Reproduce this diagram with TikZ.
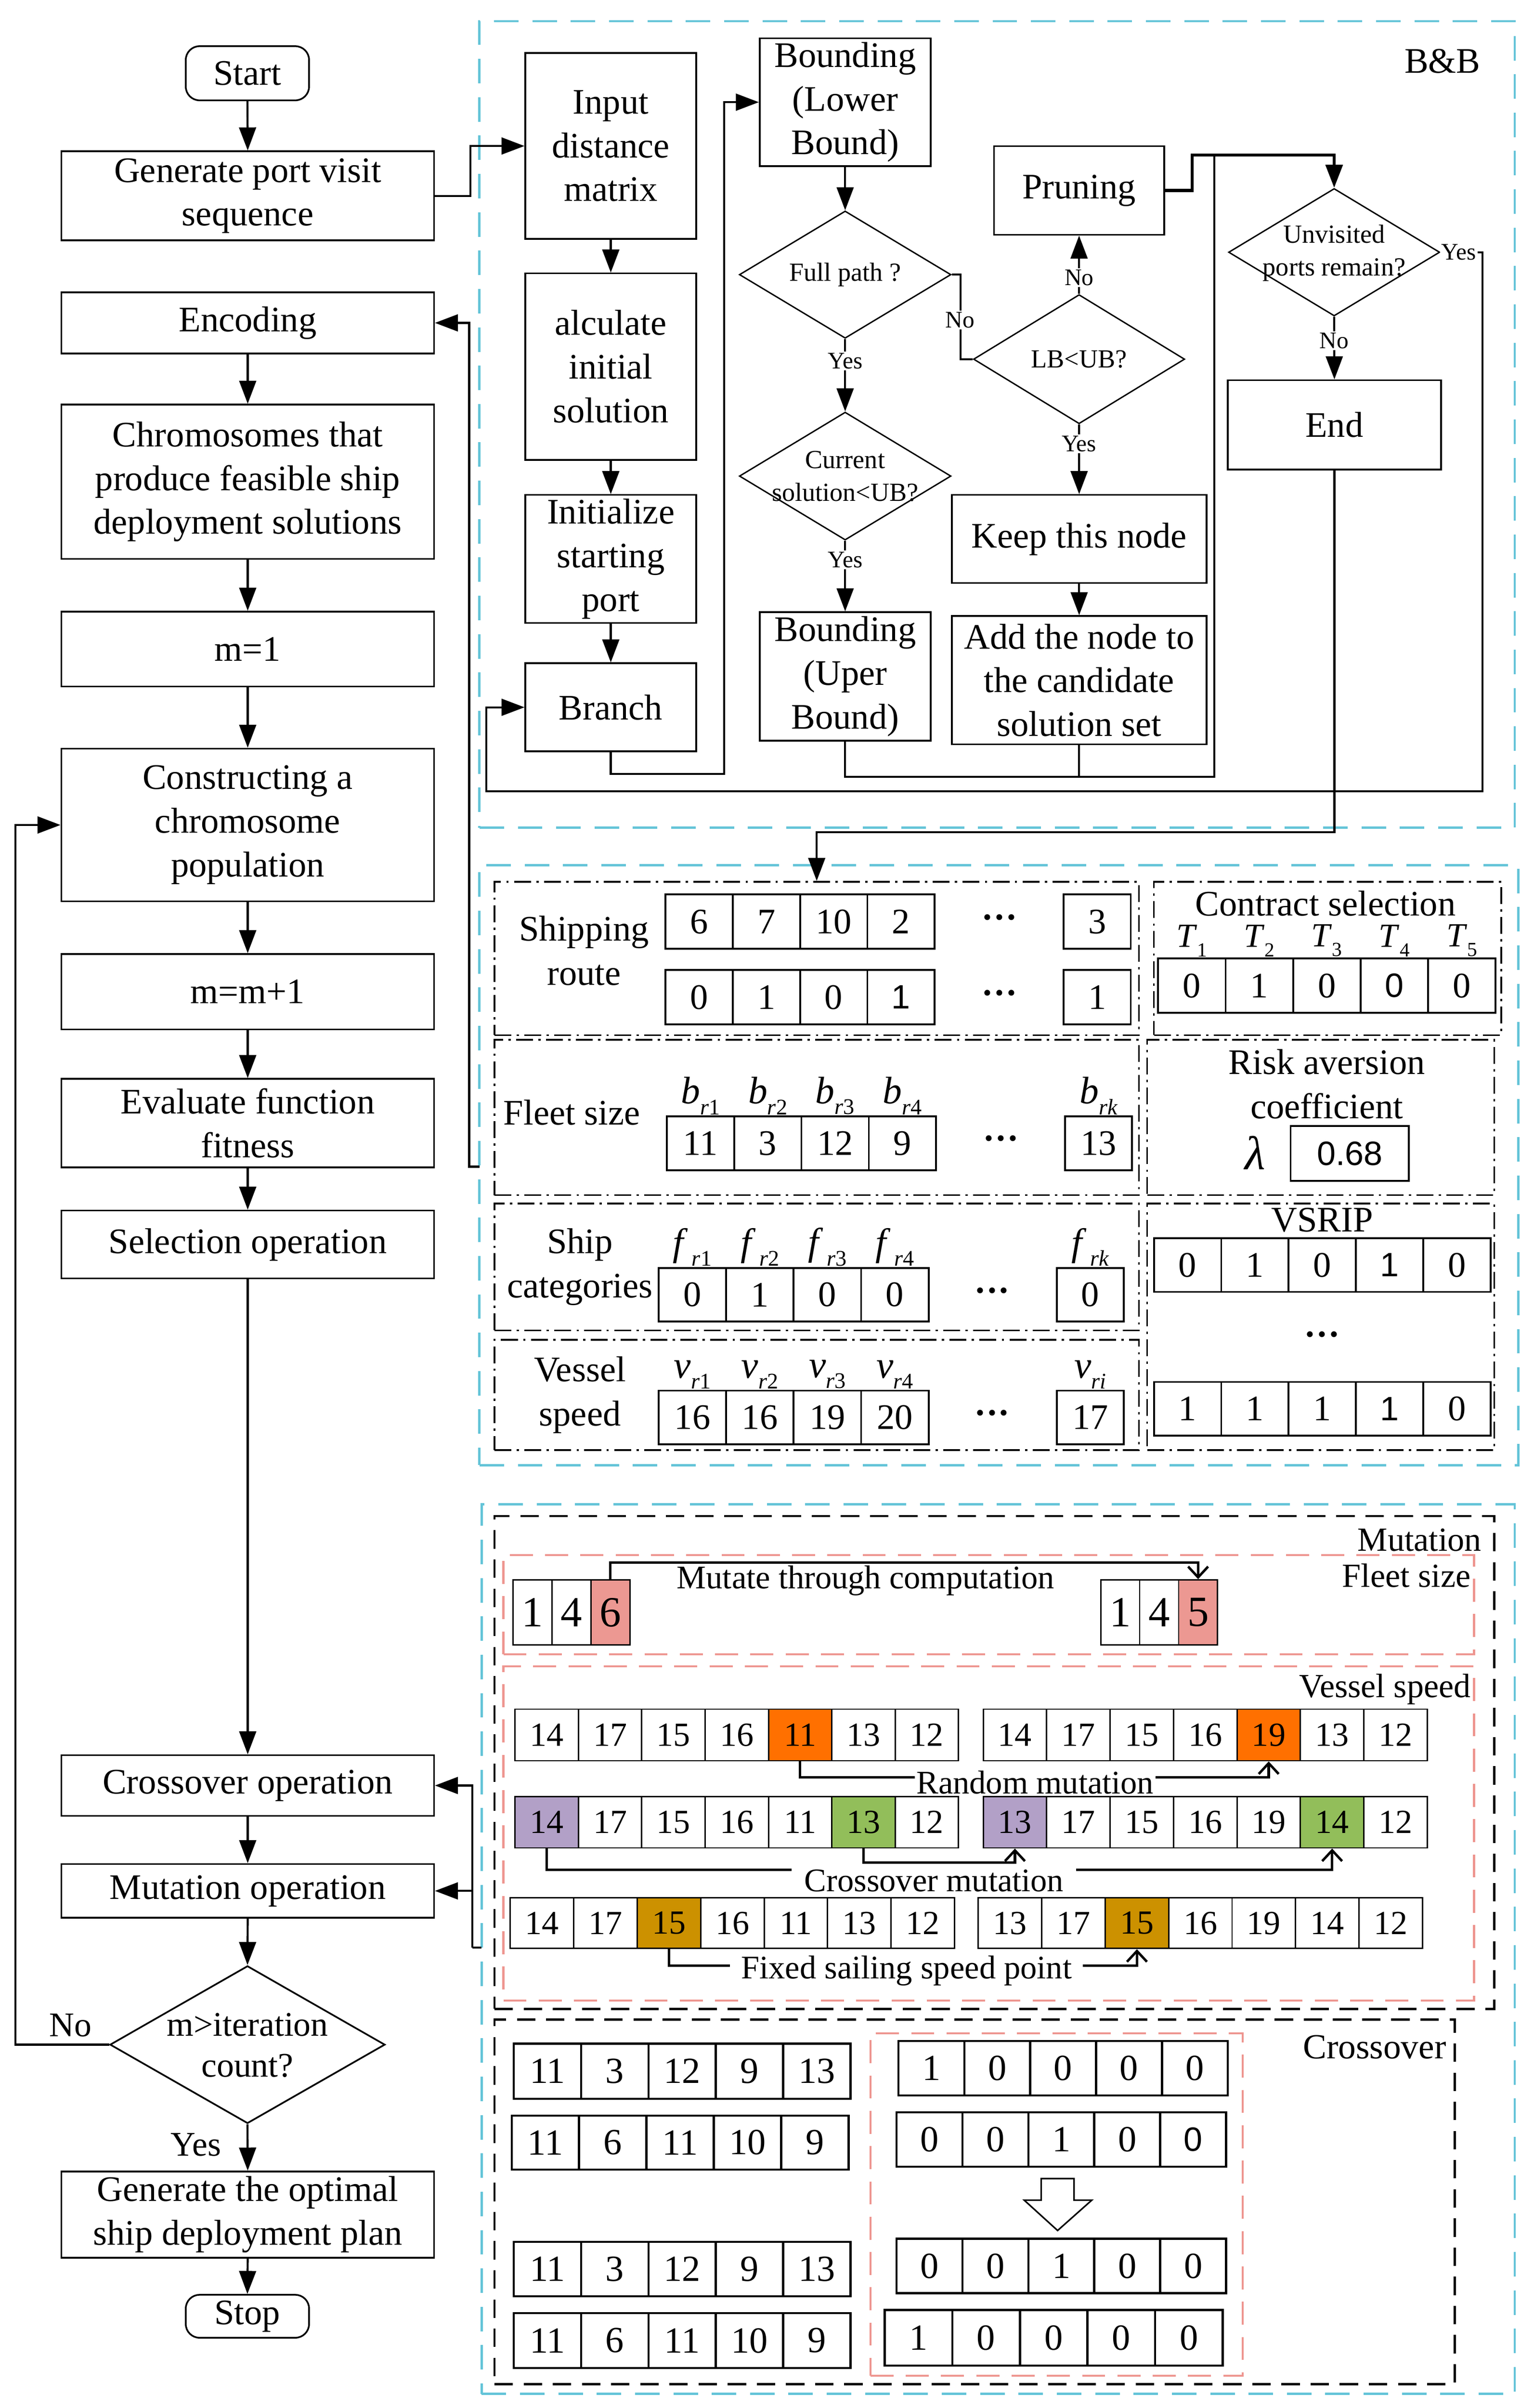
\documentclass[tikz,border=0pt]{standalone}
\usepackage{fontspec}
\setmainfont{Liberation Serif}
\newfontfamily\sansf{Liberation Sans}
\usetikzlibrary{arrows.meta,shapes.geometric}
\definecolor{bluedash}{RGB}{100,196,216}
\definecolor{reddash}{RGB}{238,150,144}
\definecolor{salmC}{RGB}{236,152,146}
\definecolor{orngC}{RGB}{255,112,0}
\definecolor{purpC}{RGB}{178,160,199}
\definecolor{grnC}{RGB}{146,190,90}
\definecolor{goldC}{RGB}{204,145,0}
\newcommand\fsz[2]{\fontsize{#1}{#2}\selectfont}
\newcommand\sbs[3][14.5]{\textit{#2}\raisebox{-0.28em}{\fsz{#1}{#1}#3}}
\newcommand\bx[7][]{\node[box,#1,minimum width={(#5)-(#3)},minimum height={(#6)-(#4)}] (#2) at ({((#3)+(#5))/2},{((#4)+(#6))/2}) {#7};}
\newcommand\crow[7]{\foreach \cv/\cst [count=\ci] in {#7} {\node[#2,\cst,minimum width=#4,minimum height=#6] (#1-\ci) at ({#3+(\ci-0.5)*#4},{#5+#6/2}) {\cv};}}
\tikzset{
 box/.style={draw, line width=1.1pt, align=center, inner sep=0pt, font=\fsz{23.4}{28.5}},
 dia/.style={diamond, draw, line width=0.9pt, inner sep=0pt},
 arr/.style={line width=1.3pt, -{Triangle[width=11pt,length=15pt]}},
 ln/.style={line width=1.3pt},
 barb/.style={line width=1.6pt, -{Straight Barb[width=13pt,length=7pt]}},
 yn/.style={font=\fsz{15.5}{18}, fill=white, inner sep=1pt},
 dtext/.style={align=center, font=\fsz{17}{21.5}, inner sep=0pt},
 bluebox/.style={draw=bluedash, line width=1.5pt, dash pattern=on 16pt off 9pt},
 redbox/.style={draw=reddash, line width=1.3pt, dash pattern=on 15pt off 8pt},
 blkbox/.style={draw=black, line width=1.4pt, dash pattern=on 12pt off 7pt},
 ddbox/.style={draw=black, line width=1.1pt, dash pattern=on 11pt off 3.5pt on 1.5pt off 3.5pt},
 cell/.style={draw, inner sep=0pt},
 mcell/.style={cell, line width=1.2pt, font=\fsz{23.4}{24}},
 vcell/.style={cell, line width=0.9pt, font=\fsz{22}{22}},
 fcell/.style={cell, line width=0.9pt, font=\fsz{28}{28}},
 xcell/.style={cell, line width=1.4pt, font=\fsz{24}{24}},
 mtext/.style={align=center, font=\fsz{23.4}{28.8}, inner sep=0pt},
 vtext/.style={align=center, font=\fsz{21.5}{22}, inner sep=0pt},
 slab/.style={font=\fsz{25}{25}, inner sep=0.5pt, anchor=south},
 tlab/.style={font=\fsz{22}{22}, inner sep=0.5pt, anchor=south},
 pl/.style={}, cOr/.style={fill=orngC}, cPu/.style={fill=purpC}, cGr/.style={fill=grnC},
 cGo/.style={fill=goldC}, cSa/.style={fill=salmC}, cSf/.style={font=\fsz{22}{22}\sansf},
 dots/.style={font=\fsz{23.4}{24}\bfseries, inner sep=0pt}
}
\begin{document}
\begin{tikzpicture}[x=1pt,y=-1pt,line join=miter]
\useasboundingbox (0,0) rectangle (1000,1569.5);
\fill[white] (0,0) rectangle (1000,1569.5);

% ---------- blue dashed frames ----------
\bx[bluebox]{bbB}{312.6}{13.8}{987.5}{539.5}{}
\bx[bluebox]{bbM}{312.6}{564}{989.8}{955}{}
\bx[bluebox]{bbL}{314}{980.4}{987.5}{1560.3}{}
\node[font=\fsz{23.4}{24}, anchor=east, inner sep=0pt] (bbLab) at (965.3,40) {B\&B};

% ---------- left column ----------
\bx[rounded corners=9pt]{start}{121.1}{30.1}{201.5}{65.4}{Start}
\bx{gen}{40}{98.6}{283}{156.7}{Generate port visit\\sequence}
\bx{enc}{40}{190.5}{283}{230.4}{Encoding}
\bx{chr}{40}{263.7}{283}{364.3}{Chromosomes that\\produce feasible ship\\deployment solutions}
\bx{mone}{40}{398.6}{283}{447.4}{m=1}
\bx{cons}{40}{487.9}{283}{587.5}{Constructing a\\chromosome\\population}
\bx{mmp}{40}{621.8}{283}{671}{m=m+1}
\bx{eva}{40}{703.2}{283}{760.9}{Evaluate function\\fitness}
\bx{sel}{40}{789}{283}{833.3}{Selection operation}
\bx{cro}{40}{1144}{283}{1183.5}{Crossover operation}
\bx{mut}{40}{1214.9}{283}{1250}{Mutation operation}
\node[dia, line width=1.1pt, minimum width=179.3pt, minimum height=102.7pt] (dia) at (161.35,1332.65) {};
\node[align=center, font=\fsz{22.5}{26.5}, inner sep=0pt] (diaT) at (161.35,1333.1) {m>iteration\\count?};
\bx{gop}{40}{1415.3}{283}{1471.6}{Generate the optimal\\ship deployment plan}
\bx[rounded corners=9pt]{stop}{121.1}{1495.7}{201.5}{1523.7}{Stop}

\draw[arr] (start.south) -- (gen.north);
\draw[arr] (enc.south) -- (chr.north);
\draw[arr] (chr.south) -- (mone.north);
\draw[arr] (mone.south) -- (cons.north);
\draw[arr] (cons.south) -- (mmp.north);
\draw[arr] (mmp.south) -- (eva.north);
\draw[arr] (eva.south) -- (sel.north);
\draw[arr] (sel.south) -- (cro.north);
\draw[arr] (cro.south) -- (mut.north);
\draw[arr] (mut.south) -- (dia.north);
\draw[arr] (dia.south) -- (gop.north);
\draw[arr] (gop.south) -- (stop.north);
\coordinate (nl) at (10.1,1332.65);
\draw[arr] (dia.west) -- (nl) |- (cons.west);
\node[font=\fsz{22.5}{24}, inner sep=0pt] (noL) at (46,1320) {No};
\node[font=\fsz{22.5}{24}, inner sep=0pt] (yesL) at (127.8,1398) {Yes};

% ---------- B&B ----------
\bx{inp}{342.5}{34.6}{453.9}{155.7}{Input\\distance\\matrix}
\bx{cal}{342.5}{178.2}{453.9}{299.7}{alculate\\initial\\solution}
\bx{ini}{342.5}{322.6}{453.9}{406}{Initialize\\starting\\port}
\bx{bra}{342.5}{432.3}{453.9}{489.7}{Branch}
\bx{blb}{495.3}{24.9}{606.7}{108.3}{Bounding\\(Lower\\Bound)}
\bx{bub}{495.3}{399}{606.7}{482.8}{Bounding\\(Uper\\Bound)}
\bx{pru}{648}{95.2}{759}{153}{Pruning}
\bx{kee}{620.5}{322.6}{786.6}{380}{Keep this node}
\bx{add}{620.5}{401.5}{786.6}{485.2}{Add the node to\\the candidate\\solution set}
\bx{endn}{800.4}{247.8}{939.5}{306}{End}
\node[dia, minimum width=138pt, minimum height=83pt] (fp) at (551,179) {};
\node[dtext] (fpT) at (551,179) {Full path ?};
\node[dia, minimum width=138pt, minimum height=83.4pt] (cur) at (551,310.3) {};
\node[dtext] (curT) at (551,310.5) {Current\\solution<UB?};
\node[dia, minimum width=137.7pt, minimum height=84.2pt] (lb) at (703.5,234.1) {};
\node[dtext] (lbT) at (703.5,234.1) {LB<UB?};
\node[dia, minimum width=137.7pt, minimum height=83.1pt] (uv) at (869.8,164.4) {};
\node[dtext] (uvT) at (869.8,165) {Unvisited\\ports remain?};

\draw[arr] (gen.east) -- ++(23,0) |- (inp.west);
\draw[arr] (inp.south) -- (cal.north);
\draw[arr] (cal.south) -- (ini.north);
\draw[arr] (ini.south) -- (bra.north);
\coordinate (bxj) at (472.1,504.3);
\draw[arr] (bra.south) |- (bxj) |- (blb.west);
\draw[arr] (blb.south) -- (fp.north);
\draw[arr] (fp.south) -- (cur.north);
\draw[arr] (cur.south) -- (bub.north);
\draw[ln] (fp.east) -- ++(5.8,0) |- (lb.west);
\draw[arr] (lb.north) -- (pru.south);
\draw[arr] (lb.south) -- (kee.north);
\draw[arr] (kee.south) -- (add.north);
\coordinate (mj) at (791.6,506.3);
\coordinate (pj) at (777.3,101);
\draw[ln] (bub.south) |- (mj) -- (mj |- pj);
\draw[ln] (add.south) -- (add.south |- mj);
\draw[arr, line width=2pt] (pru.east) -| (pj) -| (uv.north);
\draw[arr] (uv.south) -- (endn.north);
\coordinate (yr) at (966.6,515.7);
\coordinate (yl) at (317.1,515.7);
\draw[arr] (uv.east) -| (yr) -- (yl) |- (bra.west);
\node[yn] (y1) at (551,235.3) {Yes};
\node[yn] (y2) at (551,365) {Yes};
\node[yn] (n1) at (625.8,208.7) {No};
\node[yn] (n2) at (703.5,181) {No};
\node[yn] (y3) at (703.5,289.3) {Yes};
\node[yn] (n3) at (869.8,222.2) {No};
\node[yn] (y4) at (951,164.4) {Yes};

% ---------- encoding panel ----------
\bx[ddbox]{shp}{322.4}{574.7}{742.5}{674.7}{}
\bx[ddbox]{con}{752.3}{574.7}{978.7}{674.7}{}
\bx[ddbox]{fle}{322.4}{677.7}{742.5}{779}{}
\bx[ddbox]{ris}{747.9}{677.7}{974.2}{779}{}
\bx[ddbox]{shc}{322.4}{784.4}{742.5}{867.2}{}
\bx[ddbox]{ves}{322.4}{873.2}{742.5}{945.2}{}
\bx[ddbox]{vsr}{747.9}{784.4}{974.2}{945.2}{}

\coordinate (ej) at (532.45,542.5);
\draw[arr] (endn.south) |- (ej) -- (shp.north);
\coordinate (encin) at (312.6,760.4);
\draw[arr] (encin) -- ++(-6.7,0) |- (enc.east);

\node[mtext] (shpT) at (380.8,619.6) {Shipping\\route};
\crow{sa}{mcell}{433.8}{43.9}{583}{35.5}{6/pl,7/pl,10/pl,2/pl}
\crow{sA}{mcell}{693.5}{43.7}{583}{35.5}{3/pl}
\crow{sb}{mcell}{433.8}{43.9}{632.2}{35.5}{0/pl,1/pl,0/pl,1/cSf}
\crow{sB}{mcell}{693.5}{43.7}{632.2}{35.5}{1/pl}
\node[dots] (d1) at (651.7,600.7) {···};
\node[dots] (d2) at (651.7,650) {···};

\node[mtext] (conT) at (864.2,589) {Contract selection};
\crow{ct}{mcell}{755}{44}{624.7}{35.5}{0/pl,1/pl,0/pl,0/cSf,0/pl}
\foreach \ci in {1,...,5} \node[tlab] (tl-\ci) at (ct-\ci.north) {\sbs[13]{T}{\ci}};

\node[mtext] (fleT) at (372.8,725.2) {Fleet size};
\crow{fa}{mcell}{434.7}{43.9}{727.7}{35}{11/pl,3/pl,12/pl,9/pl}
\crow{fA}{mcell}{694.4}{43.7}{727.7}{35}{13/pl}
\foreach \ci in {1,...,4} \node[slab] (bl-\ci) at (fa-\ci.north) {\sbs{b}{\textit{r}\ci}};
\node[slab] (bl-k) at (fA-1.north) {\sbs{b}{\textit{rk}}};
\node[dots] (d3) at (652.6,745) {···};

\node[mtext] (risT) at (865,706.5) {Risk aversion\\coefficient};
\node[font=\fsz{31}{31}, inner sep=0pt] (lam) at (818.3,751.4) {\textit{λ}};
\bx[mcell, font=\fsz{22}{22}\sansf]{lamv}{841.4}{734}{918.5}{769.7}{0.68}

\node[mtext] (shcT) at (378.1,825.85) {Ship\\categories};
\crow{ca}{mcell}{429.4}{44}{826.4}{35}{0/pl,1/pl,0/pl,0/pl}
\crow{cA}{mcell}{689}{43.7}{826.4}{35}{0/pl}
\foreach \ci in {1,...,4} \node[slab] (fl-\ci) at (ca-\ci.north) {\sbs{f}{\,\textit{r}\ci}};
\node[slab] (fl-k) at (cA-1.north) {\sbs{f}{\,\textit{rk}}};
\node[dots] (d4) at (646.8,844) {···};

\node[mtext] (vesT) at (378.1,909.2) {Vessel\\speed};
\crow{va}{mcell}{429.4}{44}{906.4}{35}{16/pl,16/pl,19/pl,20/pl}
\crow{vA}{mcell}{689}{43.7}{906.4}{35}{17/pl}
\foreach \ci in {1,...,4} \node[slab] (vl-\ci) at (va-\ci.north) {\sbs{v}{\textit{r}\ci}};
\node[slab] (vl-i) at (vA-1.north) {\sbs{v}{\textit{ri}}};
\node[dots] (d5) at (646.8,924) {···};

\node[mtext] (vsrT) at (862,795.2) {VSRIP};
\crow{ra}{mcell}{752.3}{43.9}{807}{35}{0/pl,1/pl,0/pl,1/cSf,0/pl}
\crow{rb}{mcell}{752.3}{43.9}{900.7}{35}{1/pl,1/pl,1/pl,1/cSf,0/pl}
\node[dots] (d6) at (862,872.7) {···};

% ---------- mutation ----------
\bx[blkbox]{mbox}{322.4}{988.2}{974.2}{1309.4}{}
\bx[redbox]{redF}{328.2}{1013.6}{961}{1078.2}{}
\bx[redbox]{redV}{328.2}{1086.1}{961}{1303.9}{}
\node[vtext, font=\fsz{22}{22}, anchor=east] (mutL) at (966,1003.6) {Mutation};
\node[vtext, font=\fsz{22}{22}, anchor=east] (fsL) at (959,1027) {Fleet size};
\node[vtext, font=\fsz{22}{22}, anchor=east] (vsL) at (959,1101) {Vessel speed};
\node[vtext] (mtc) at (564.3,1030.2) {Mutate through computation};
\crow{Fa}{fcell}{334.5}{25.4}{1029.7}{42.5}{1/pl,4/pl,6/cSa}
\crow{Fb}{fcell}{717.6}{25.4}{1029.7}{42.5}{1/pl,4/pl,5/cSa}
\coordinate (mtop) at (0,1018.5);
\draw[barb] (Fa-3.north) -- (Fa-3.north |- mtop) -| (Fb-3.north);

\crow{Va}{vcell}{335.8}{41.3}{1114}{33.6}{14/pl,17/pl,15/pl,16/pl,11/cOr,13/pl,12/pl}
\crow{Vb}{vcell}{641}{41.36}{1114}{33.6}{14/pl,17/pl,15/pl,16/pl,19/cOr,13/pl,12/pl}
\crow{Vc}{vcell}{335.8}{41.3}{1171}{33.4}{14/cPu,17/pl,15/pl,16/pl,11/pl,13/cGr,12/pl}
\crow{Vd}{vcell}{641}{41.36}{1171}{33.4}{13/cPu,17/pl,15/pl,16/pl,19/pl,14/cGr,12/pl}
\crow{Ve}{vcell}{332.7}{41.37}{1236.9}{33.1}{14/pl,17/pl,15/cGo,16/pl,11/pl,13/pl,12/pl}
\crow{Vf}{vcell}{637.8}{41.37}{1236.9}{33.1}{13/pl,17/pl,15/cGo,16/pl,19/pl,14/pl,12/pl}
\node[vtext, inner xsep=1pt] (rmT) at (674.8,1161.7) {Random mutation};
\node[vtext, inner xsep=8pt] (cmT) at (608.9,1225.8) {Crossover mutation};
\node[vtext, inner xsep=7pt] (fsT) at (591,1284.5) {Fixed sailing speed point};
\draw[ln, line width=1.6pt] (Va-5.south) |- ([yshift=3.3pt]rmT.west);
\draw[barb] ([yshift=3.3pt]rmT.east) -| (Vb-5.south);
\draw[barb] (Vc-6.south) -- ++(0,9) -| (Vd-1.south);
\draw[ln, line width=1.6pt] (Vc-1.south) |- ([yshift=7.2pt]cmT.west);
\draw[barb] ([yshift=7.2pt]cmT.east) -| (Vd-6.south);
\draw[ln, line width=1.6pt] (Ve-3.south) |- ([yshift=3.4pt]fsT.west);
\draw[barb] ([yshift=3.4pt]fsT.east) -| (Vf-3.south);

\coordinate (cmin) at (314,1269.3);
\coordinate (jx) at (307.9,1269.3);
\draw[ln] (cmin) -- (jx);
\draw[arr] (jx) |- (cro.east);
\draw[arr] (jx |- mut.east) -- (mut.east);

% ---------- crossover ----------
\bx[blkbox]{xbox}{322.4}{1316.3}{948.4}{1553.9}{}
\bx[redbox]{redX}{567.5}{1325.4}{810.3}{1548.4}{}
\node[vtext, font=\fsz{23}{23}, anchor=east] (xoL) at (943,1334.4) {Crossover};
\crow{Xa}{xcell}{334.9}{43.92}{1332}{35.9}{11/pl,3/pl,12/pl,9/pl,13/pl}
\crow{Xb}{xcell}{333.6}{43.92}{1378.9}{35.2}{11/pl,6/pl,11/pl,10/pl,9/pl}
\crow{Xc}{xcell}{334.9}{43.92}{1461.2}{35.4}{11/pl,3/pl,12/pl,9/pl,13/pl}
\crow{Xd}{xcell}{334.9}{43.92}{1507.6}{35.9}{11/pl,6/pl,11/pl,10/pl,9/pl}
\crow{Xe}{xcell}{585.7}{42.96}{1330.3}{35.4}{1/pl,0/pl,0/pl,0/pl,0/pl}
\crow{Xf}{xcell}{584.4}{43}{1376.7}{35.6}{0/pl,0/pl,1/pl,0/pl,0/cSf}
\crow{Xg}{xcell}{584.4}{43}{1459.2}{35.4}{0/pl,0/pl,1/pl,0/pl,0/pl}
\crow{Xh}{xcell}{576.8}{44.06}{1505.6}{36.2}{1/pl,0/pl,0/pl,0/pl,0/pl}
\draw[line width=1pt, fill=white] (678.8,1420) -- (700.2,1420) -- (700.2,1434) -- (711.8,1434) -- (689.5,1453.8) -- (667.7,1434) -- (678.8,1434) -- cycle;
\end{tikzpicture}
\end{document}
